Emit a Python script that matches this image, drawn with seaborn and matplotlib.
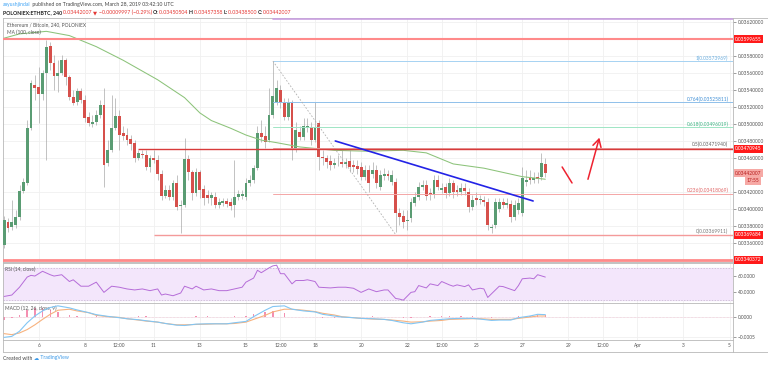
import matplotlib
matplotlib.use("Agg")
import numpy as np
import pandas as pd
import matplotlib.pyplot as plt
from matplotlib.lines import Line2D
from matplotlib.transforms import blended_transform_factory
import seaborn as sns

sns.set_theme(style="white")
plt.rcParams["font.family"] = ["Lato", "DejaVu Sans"]

W, H = 768, 365

# ── Data: ETH/BTC 4h candles (prices in 1e-5 BTC), first candle Mar 4 12:00 ──
first_day = 4.5
opens = [3358, 3385, 3379, 3381, 3391, 3421, 3431, 3495, 3546, 3544,
         3535, 3560, 3592, 3572, 3556, 3560, 3575, 3555, 3532, 3526,
         3539, 3528, 3508, 3500, 3502, 3511, 3522, 3454, 3469, 3495,
         3509, 3489, 3487, 3482, 3478, 3460, 3465, 3464, 3449, 3460,
         3458, 3441, 3415, 3422, 3414, 3431, 3404, 3405, 3459, 3444,
         3419, 3444, 3424, 3416, 3413, 3414, 3405, 3407, 3409, 3408,
         3405, 3414, 3415, 3414, 3431, 3434, 3448, 3489, 3486, 3481,
         3511, 3526, 3540, 3525, 3508, 3525, 3469, 3491, 3485, 3495,
         3496, 3481, 3501, 3461, 3460, 3456, 3452, 3454, 3455, 3453,
         3456, 3452, 3451, 3449, 3438, 3446, 3441, 3446, 3426, 3439,
         3441, 3432, 3432, 3395, 3392, 3386, 3389, 3407, 3414, 3426,
         3428, 3419, 3416, 3434, 3422, 3426, 3419, 3431, 3422, 3420,
         3425, 3420, 3402, 3413, 3411, 3411, 3408, 3378, 3381, 3400,
         3408, 3405, 3406, 3391, 3399, 3395, 3432, 3438, 3434, 3438,
         3438, 3453]
closes = [3387, 3378, 3385, 3391, 3421, 3432, 3495, 3548, 3542, 3535,
          3560, 3591, 3572, 3556, 3560, 3575, 3555, 3532, 3525, 3539,
          3528, 3507, 3501, 3502, 3511, 3522, 3452, 3469, 3495, 3509,
          3487, 3486, 3481, 3476, 3460, 3466, 3464, 3449, 3460, 3458,
          3441, 3415, 3422, 3414, 3431, 3402, 3405, 3459, 3444, 3419,
          3444, 3422, 3413, 3413, 3416, 3405, 3408, 3409, 3406, 3404,
          3414, 3418, 3418, 3431, 3434, 3448, 3489, 3485, 3479, 3511,
          3533, 3542, 3525, 3508, 3525, 3469, 3493, 3485, 3498, 3498,
          3481, 3496, 3461, 3460, 3455, 3452, 3454, 3454, 3453, 3455,
          3449, 3449, 3447, 3438, 3446, 3431, 3446, 3431, 3440, 3441,
          3439, 3440, 3395, 3391, 3385, 3387, 3408, 3414, 3426, 3428,
          3415, 3416, 3434, 3426, 3425, 3419, 3431, 3420, 3420, 3425,
          3421, 3402, 3411, 3411, 3412, 3408, 3381, 3379, 3408, 3408,
          3405, 3407, 3391, 3405, 3407, 3436, 3434, 3434, 3436, 3435,
          3454, 3442]
highs = [3392, 3389, 3411, 3399, 3428, 3437, 3505, 3552, 3558, 3567,
         3564, 3599, 3596, 3581, 3575, 3581, 3578, 3558, 3540, 3542,
         3542, 3534, 3514, 3511, 3516, 3528, 3542, 3481, 3534, 3531,
         3516, 3498, 3495, 3487, 3481, 3469, 3469, 3469, 3464, 3469,
         3464, 3446, 3428, 3428, 3434, 3440, 3411, 3484, 3464, 3446,
         3448, 3446, 3428, 3422, 3420, 3420, 3413, 3413, 3413, 3413,
         3458, 3422, 3422, 3436, 3440, 3452, 3498, 3505, 3498, 3542,
         3574, 3552, 3546, 3531, 3531, 3528, 3502, 3498, 3507, 3507,
         3502, 3526, 3505, 3469, 3464, 3464, 3460, 3464, 3469, 3460,
         3469, 3458, 3458, 3455, 3452, 3452, 3455, 3452, 3446, 3448,
         3446, 3446, 3436, 3401, 3399, 3399, 3413, 3420, 3432, 3434,
         3434, 3425, 3440, 3440, 3431, 3431, 3436, 3434, 3428, 3431,
         3431, 3425, 3416, 3420, 3416, 3415, 3413, 3382, 3413, 3413,
         3413, 3413, 3411, 3411, 3413, 3449, 3446, 3446, 3444, 3444,
         3466, 3460]
lows = [3354, 3373, 3375, 3378, 3387, 3419, 3428, 3493, 3528, 3501,
        3528, 3458, 3564, 3540, 3538, 3558, 3546, 3528, 3522, 3522,
        3525, 3502, 3498, 3496, 3499, 3507, 3426, 3451, 3467, 3493,
        3469, 3481, 3475, 3469, 3455, 3458, 3460, 3446, 3444, 3454,
        3434, 3411, 3413, 3411, 3411, 3399, 3372, 3402, 3434, 3411,
        3415, 3413, 3405, 3407, 3405, 3401, 3401, 3404, 3402, 3399,
        3391, 3411, 3412, 3411, 3427, 3431, 3446, 3479, 3472, 3479,
        3507, 3522, 3519, 3505, 3505, 3458, 3467, 3481, 3481, 3491,
        3475, 3479, 3446, 3452, 3448, 3446, 3448, 3451, 3449, 3448,
        3444, 3444, 3441, 3434, 3434, 3420, 3436, 3425, 3422, 3434,
        3434, 3428, 3373, 3381, 3378, 3375, 3385, 3404, 3411, 3422,
        3411, 3411, 3413, 3422, 3419, 3413, 3415, 3413, 3415, 3416,
        3416, 3396, 3399, 3405, 3406, 3404, 3375, 3372, 3378, 3396,
        3401, 3401, 3385, 3387, 3394, 3392, 3427, 3429, 3431, 3431,
        3434, 3438]

# MA(100) read at some candle indices
ma_idx = [0, 4, 11, 17, 24, 31, 40, 47, 51, 54, 59, 63, 67, 71, 77, 86, 94,
          104, 110, 117, 125, 135, 141]
ma_vals = [3601, 3606, 3609, 3604, 3591, 3575, 3552, 3531, 3513, 3504, 3495,
           3487, 3481, 3478, 3473, 3469, 3468, 3469, 3466, 3453, 3448, 3438, 3435]

# RSI(14)
rsi_idx = [0, 2, 4, 6, 7, 8, 10, 12, 13, 15, 17, 18, 20, 22, 24, 26, 28, 30,
           32, 34, 36, 38, 40, 41, 42, 44, 46, 47, 49, 50, 52, 54, 56, 58, 60,
           62, 63, 65, 66, 67, 69, 70, 71, 72, 73, 75, 76, 78, 79, 81, 82, 85,
           87, 89, 91, 93, 95, 97, 99, 100, 102, 103, 104, 106, 107, 108, 110,
           111, 113, 114, 116, 117, 118, 120, 121, 122, 124, 125, 126, 129,
           130, 133, 134, 135, 137, 138, 139, 141]
rsi_vals = [34.2, 36.0, 46.0, 59.0, 61.2, 60.3, 66.4, 62.0, 60.3, 62.0, 53.3,
            55.5, 47.3, 47.3, 52.5, 39.4, 47.3, 46.0, 43.8, 42.5, 43.8, 41.6,
            43.8, 36.0, 37.3, 35.1, 38.6, 47.3, 43.8, 47.3, 42.5, 43.8, 41.6,
            41.6, 43.8, 46.0, 52.5, 57.7, 67.7, 64.6, 70.7, 73.3, 74.2, 63.3,
            63.3, 50.3, 54.6, 54.6, 55.5, 53.3, 46.0, 45.1, 46.0, 46.0, 44.7,
            39.4, 43.8, 40.3, 42.5, 42.5, 31.6, 30.8, 29.4, 39.4, 40.3, 48.1,
            45.1, 50.3, 48.1, 53.3, 49.0, 47.3, 49.0, 46.8, 49.0, 42.5, 44.7,
            43.8, 32.9, 47.3, 46.8, 41.6, 48.1, 56.8, 57.7, 56.8, 62.0, 59.0]

# MACD(12, 26, close, 9) in 1e-4 BTC
macd_idx = [0, 2, 4, 6, 8, 10, 12, 14, 17, 19, 22, 24, 27, 30, 32, 35, 37,
            40, 42, 45, 47, 50, 53, 55, 58, 60, 63, 65, 68, 70, 73, 75, 78,
            81, 83, 86, 88, 91, 93, 96, 99, 101, 104, 106, 109, 111, 114, 116,
            119, 122, 124, 127, 129, 132, 134, 137, 139, 141]
macd_line = [-5.04, -4.80, -3.56, -1.50, 0.14, 1.38, 2.20, 2.61, 2.12, 1.62,
             0.96, 0.47, 0.06, -0.27, -0.52, -0.76, -1.01, -1.34, -1.67, -2.08,
             -2.16, -1.83, -1.75, -1.75, -1.75, -1.50, -1.17, -0.02, 1.54, 2.44,
             2.61, 1.79, 1.38, 1.13, 0.55, 0.14, -0.10, -0.27, -0.43, -0.52,
             -0.68, -0.93, -1.50, -1.75, -1.34, -0.93, -0.68, -0.52, -0.43, -0.43,
             -0.60, -0.93, -0.84, -0.84, -0.27, 0.14, 0.55, 0.47]
signal_line = [-4.14, -4.38, -3.97, -3.15, -2.00, -0.68, 0.55, 1.54, 1.79, 1.38,
               0.96, 0.31, -0.02, -0.19, -0.52, -0.84, -1.09, -1.34, -1.67, -2.00,
               -2.00, -1.91, -1.83, -1.75, -1.75, -1.67, -1.34, -0.68, 0.31, 1.13,
               1.79, 1.79, 1.54, 1.21, 0.80, 0.39, -0.02, -0.27, -0.43, -0.60,
               -0.68, -0.84, -1.09, -1.34, -1.26, -1.09, -0.93, -0.68, -0.60, -0.52,
               -0.52, -0.68, -0.68, -0.68, -0.43, -0.10, 0.14, 0.14]

# drawings
fib_levels = ["1", "0.764", "0.618", "0.5", "0.236", "0"]
fib_prices = [0.03573969, 0.03525811, 0.03496019, 0.03471940, 0.03418069, 0.03369911]
fib_start_day = 16.17
fib_end_day = 21.5
hline_prices = [0.03599655, 0.03470945, 0.03369684, 0.03340372]
hline_start = [4.4, 10.33, 11.0, 4.4]
trend_days = [18.88, 27.47]
trend_prices = [0.034800, 0.034094]
down_days = [28.73, 29.16]
down_prices = [0.034494, 0.034306]
up_days = [29.82, 30.38]
up_prices = [0.034318, 0.034871]
last_price = 0.03442007

day_ticks = [6, 8, 9.5, 11, 13, 15, 16.5, 18, 20, 22, 23.5, 25, 27, 29, 30.5, 32, 34, 36]
day_labels = ["6", "8", "12:00", "11", "13", "15", "12:00", "18", "20", "22",
              "12:00", "25", "27", "29", "12:00", "Apr", "3", "5"]
price_ticks = [0.0362, 0.0358, 0.0356, 0.0354, 0.0352, 0.0350, 0.0348, 0.0346,
               0.0342, 0.0340, 0.0338, 0.0336]

# ── Build frames ──
df = pd.DataFrame({"open": opens, "high": highs, "low": lows, "close": closes}) * 1e-5
df["day"] = first_day + np.arange(len(df)) / 6
ma = pd.DataFrame({"day": first_day + np.array(ma_idx) / 6, "ma": np.array(ma_vals) * 1e-5})
rsi = pd.DataFrame({"day": first_day + np.array(rsi_idx) / 6, "rsi": rsi_vals})
macd = pd.DataFrame({"day": first_day + np.array(macd_idx) / 6,
                     "macd": np.array(macd_line) * 1e-4,
                     "signal": np.array(signal_line) * 1e-4})
macd["hist"] = macd["macd"] - macd["signal"]

GREEN, RED = "#5a9c73", "#d6504b"
TXT = "#555555"
FS = 3.5
XLIM = (4.45, 36.15)

fig = plt.figure(figsize=(W / 100, H / 100), dpi=100)
fig.patch.set_facecolor("white")


def fx(px):
    return px / W


def fy(py):
    return 1 - py / H


def pane(top, bottom):
    a = fig.add_axes([fx(3), fy(bottom), fx(733) - fx(3), fy(top) - fy(bottom)])
    a.set_facecolor("white")
    for s in a.spines.values():
        s.set_color("#b8b8b8")
        s.set_linewidth(0.6)
    a.set_xlim(*XLIM)
    a.set_xticks(day_ticks)
    a.grid(True, color="#f0f0f0", lw=0.6, zorder=0)
    a.yaxis.tick_right()
    a.tick_params(axis="y", labelsize=FS, colors=TXT, length=2, width=0.4, pad=1.5)
    a.tick_params(axis="x", length=0)
    return a


ax = pane(18, 262)
ax_rsi = pane(263, 303)
ax_macd = pane(303, 339.5)

# ── Main price pane ──
ax.set_ylim(0.033376, 0.036247)
ax.set_yticks(price_ticks)
ax.set_yticklabels([f"{v:.8f}" for v in price_ticks])
ax.set_xticklabels([])

up = df["close"] >= df["open"]
body = (df["close"] - df["open"]).to_numpy()
body = np.where(np.abs(body) < 1.5e-6, 1.5e-6, body)
ax.vlines(df["day"], df["low"], df["high"], color="#a0a0a0", lw=0.45, zorder=3)
ax.bar(df["day"], body, bottom=df["open"], width=0.125,
       color=np.where(up, GREEN, RED), lw=0, zorder=4)

sns.lineplot(data=ma, x="day", y="ma", ax=ax, color="#8cc37a", lw=0.75, zorder=5)
ax.set_xlabel("")
ax.set_ylabel("")

# horizontal support / resistance lines
hl_style = [("#ff8a8a", 1.5), ("#d83a3a", 1.0), ("#f49a9a", 1.0), ("#ff8a8a", 2.0)]
for p, x0, (c, lw) in zip(hline_prices, hline_start, hl_style):
    ax.plot([x0, XLIM[1]], [p, p], color=c, lw=lw, zorder=6, solid_capstyle="butt")

# fibonacci retracement
fib_line_c = ["#a6d2f2", "#8fc0ea", "#9fe5c4", "#e7a0a0", "#f4a6a6", "#f4a6a6"]
fib_text_c = ["#6aaee0", "#3f8fd6", "#3fb585", "#666666", "#e06666", "#777777"]
for lev, p, lc, tc in zip(fib_levels, fib_prices, fib_line_c, fib_text_c):
    ax.plot([fib_start_day, XLIM[1]], [p, p], color=lc, lw=0.7, zorder=5)
    ax.text(35.95, p + 0.000004, f"{lev}({p:.8f})", color=tc, fontsize=FS,
            ha="right", va="bottom", zorder=7)
ax.plot([fib_start_day, XLIM[1]], [0.03623, 0.03623], color="#c9a0e0", lw=1.2, zorder=5)
ax.plot([fib_start_day, fib_end_day], [fib_prices[0], fib_prices[-1]],
        color="#b0b0b0", lw=0.6, ls=(0, (2, 2)), zorder=5)

# trend line + arrows
ax.plot(trend_days, trend_prices, color="#2323e6", lw=1.2, zorder=7, solid_capstyle="round")
ax.plot(down_days, down_prices, color="#ee2230", lw=1.1, zorder=7)
ax.annotate("", xy=(up_days[1], up_prices[1]), xytext=(up_days[0], up_prices[0]),
            arrowprops=dict(arrowstyle="->,head_length=0.45,head_width=0.25",
                            color="#ee2230", lw=1.1), zorder=7)

# pane captions
ax.text(0.006, 0.972, "Ethereum / Bitcoin, 240, POLONIEX", transform=ax.transAxes,
        fontsize=FS, color=TXT, va="center", ha="left", zorder=8)
ax.text(0.006, 0.94, "MA (100, close)", transform=ax.transAxes,
        fontsize=FS, color=TXT, va="center", ha="left", zorder=8)

# price labels on the right scale
tr = blended_transform_factory(ax.transAxes, ax.transData)
for p in hline_prices:
    ax.text(1.003, p, f"{p:.8f}", transform=tr, fontsize=FS, color="white",
            va="center", ha="left", zorder=9, clip_on=False,
            bbox=dict(boxstyle="square,pad=0.3", fc="#ff1a1a", ec="none"))
ax.text(1.003, last_price, f"{last_price:.8f}", transform=tr, fontsize=FS,
        color="#b71c1c", va="center", ha="left", zorder=9, clip_on=False,
        bbox=dict(boxstyle="square,pad=0.3", fc="#f6a9a5", ec="none"))
ax.text(1.019, last_price - 0.00009, "17:55", transform=tr, fontsize=FS,
        color="#b71c1c", va="center", ha="left", zorder=9, clip_on=False,
        bbox=dict(boxstyle="square,pad=0.3", fc="#f6a9a5", ec="none"))

# ── RSI pane ──
ax_rsi.set_ylim(25.8, 77)
ax_rsi.axhspan(30, 70, color="#f3e6fb", zorder=1)
for lv in (30, 70):
    ax_rsi.axhline(lv, color="#c4b4cc", lw=0.5, ls=(0, (2, 2)), zorder=2)
sns.lineplot(data=rsi, x="day", y="rsi", ax=ax_rsi, color="#b56cd8", lw=0.7, zorder=4)
ax_rsi.set_yticks([60, 40])
ax_rsi.set_yticklabels(["60.0000", "40.0000"])
ax_rsi.set_xticklabels([])
ax_rsi.set_xlabel("")
ax_rsi.set_ylabel("")
ax_rsi.text(0.003, 0.84, "RSI (14, close)", transform=ax_rsi.transAxes,
            fontsize=FS, color=TXT, va="center", ha="left")

# ── MACD pane ──
ax_macd.set_ylim(-0.000556, 0.00033)
ax_macd.bar(macd["day"], macd["hist"], width=0.06, color="#f48fb1", lw=0, zorder=2)
ax_macd.axhline(0, color="#f6b0c8", lw=0.4, ls=(0, (1, 1.5)), zorder=2)
sns.lineplot(data=macd, x="day", y="signal", ax=ax_macd, color="#f7b27e", lw=0.8, zorder=3)
sns.lineplot(data=macd, x="day", y="macd", ax=ax_macd, color="#82c6f4", lw=0.8, zorder=4)
ax_macd.set_yticks([0, -0.0005])
ax_macd.set_yticklabels(["0.0000", "\u22120.0005"])
ax_macd.set_xticklabels(day_labels)
ax_macd.tick_params(axis="x", labelsize=FS, colors=TXT, pad=2.6)
ax_macd.set_xlabel("")
ax_macd.set_ylabel("")
ax_macd.text(0.003, 0.86, "MACD (12, 26, close, 9)", transform=ax_macd.transAxes,
             fontsize=FS, color=TXT, va="center", ha="left")

# outer frame lines (time scale box and price scale separator)
fig.add_artist(Line2D([fx(3), fx(768)], [fy(351.5), fy(351.5)], color="#b8b8b8", lw=0.6))
fig.add_artist(Line2D([fx(733), fx(733)], [fy(339.5), fy(351.5)], color="#b8b8b8", lw=0.6))
fig.add_artist(Line2D([fx(3), fx(3)], [fy(339.5), fy(351.5)], color="#b8b8b8", lw=0.6))
fig.add_artist(Line2D([fx(733), fx(768)], [fy(18), fy(18)], color="#b8b8b8", lw=0.6))

# ── Header / footer text ──
renderer = fig.canvas.get_renderer()


def chain(pieces, x_px, y_px, size):
    cur = fx(x_px)
    for s, color, weight in pieces:
        t = fig.text(cur, fy(y_px), s, color=color, fontsize=size, fontweight=weight,
                     va="center", ha="left")
        cur += t.get_window_extent(renderer).width / W


RED_T = "#e53935"
chain([("aayushjindal", "#42a5f5", "normal"),
       (" published on TradingView.com, March 28, 2019 03:42:10 UTC", "#444444", "normal")],
      3, 4.5, 3.7)
chain([("POLONIEX:ETHBTC, 240 ", "#222222", "bold"),
       ("0.03442007 ", RED_T, "normal"), ("\u25bc ", RED_T, "normal"),
       ("\u22120.00009997 (\u22120.29%) ", RED_T, "normal"),
       ("O:", "#222222", "bold"), ("0.03450504 ", RED_T, "normal"),
       ("H:", "#222222", "bold"), ("0.03457358 ", RED_T, "normal"),
       ("L:", "#222222", "bold"), ("0.03438500 ", RED_T, "normal"),
       ("C:", "#222222", "bold"), ("0.03442007", RED_T, "normal")],
      3, 12.5, 3.8)
chain([("Created with ", "#444444", "normal"), ("\u2601", "#3d9ae8", "normal"),
       (" TradingView", "#3d9ae8", "normal")], 3, 358, 3.7)

fig.savefig("out.png", dpi=100, facecolor="white")
